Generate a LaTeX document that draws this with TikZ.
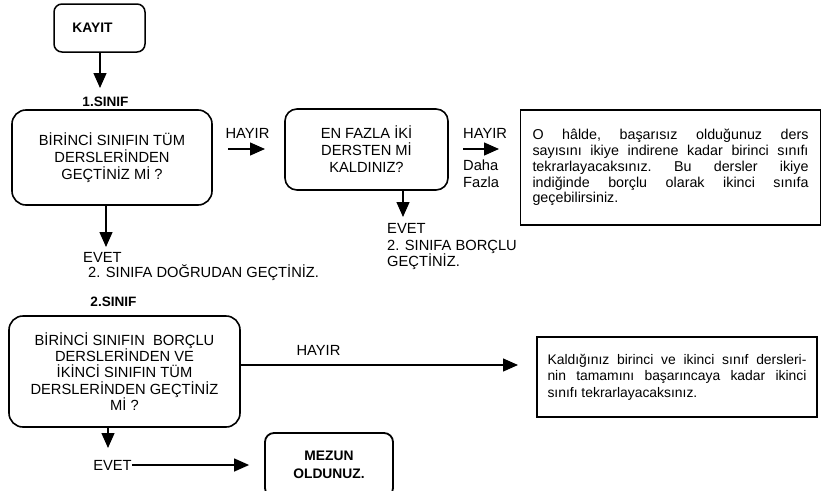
\documentclass[tikz,border=0pt]{standalone}
\usepackage{fontspec}
\setmainfont{Liberation Sans}
\usetikzlibrary{arrows.meta}
\tikzstyle{question}=[draw, line width=1.6pt, rounded corners=14pt, align=center, inner sep=0pt, font=\fontsize{14.7}{17}\selectfont]
\tikzstyle{verdict}=[draw, line width=1.6pt, inner sep=0pt, align=justify, font=\fontsize{14.3}{15.8}\selectfont]
\tikzstyle{terminal}=[draw, line width=1.8pt, rounded corners=9pt, align=center, inner sep=0pt, font=\fontsize{13.8}{18}\selectfont\bfseries]
\tikzstyle{heading}=[inner sep=0pt, font=\fontsize{13.6}{16}\selectfont\bfseries]
\tikzstyle{answer}=[inner sep=0pt, align=left, font=\fontsize{14.7}{16.5}\selectfont]
\tikzstyle{flow}=[-{Triangle[length=15pt,width=13pt]}, line width=1.3pt]
\newcommand{\fullline}[2]{\makebox[#1][s]{\frenchspacing\spaceskip=0pt\xspaceskip=0pt\relax #2}}

\begin{document}
\begin{tikzpicture}[x=1pt,y=-1pt]
  \useasboundingbox (0,0) rectangle (822,490);

  %% First year
  \draw (99.5,28) node[terminal, line width=1.5pt, rounded corners=8pt, minimum width=91pt, minimum height=48pt] (kayit) {KAYIT\hspace{14pt}};
  \draw (105.5,102) node[heading] (sinif1) {1.SINIF};
  \draw (112,157.5) node[question, minimum width=200pt, minimum height=95pt] (tum1) {BİRİNCİ SINIFIN TÜM\\DERSLERİNDEN\\GEÇTİNİZ Mİ ?};
  \draw (366.5,149.5) node[question, rounded corners=12pt, minimum width=163pt, minimum height=81pt] (iki) {EN FAZLA İKİ\\DERSTEN Mİ\\KALDINIZ?};
  \draw (670.5,167.5) node[verdict, text width=276pt, minimum width=300pt, minimum height=115pt] (tekrar1) {%
    \fullline{276pt}{O hâlde, başarısız olduğunuz ders}\\
    \fullline{276pt}{sayısını ikiye indirene kadar birinci sınıfı}\\
    \fullline{276pt}{tekrarlayacaksınız. Bu dersler ikiye}\\
    \fullline{276pt}{indiğinde borçlu olarak ikinci sınıfa}\\
    geçebilirsiniz.};

  \coordinate (k1) at (100,88);
  \draw[flow] (kayit.south -| k1) -- (k1);

  \coordinate (h1a) at (228,149);
  \coordinate (h1b) at (265,149);
  \draw[flow] (h1a) -- (h1b);
  \draw (247.5,133) node[answer] (hayir1) {HAYIR};

  \coordinate (e1) at (106,247);
  \draw[flow] (tum1.south -| e1) -- (e1);
  \draw (83,257) node[answer, anchor=west] (evet1) {EVET};
  \draw (88,273) node[answer, anchor=west] (gecti1) {2. SINIFA DOĞRUDAN GEÇTİNİZ.};

  \coordinate (h2a) at (463,149);
  \coordinate (h2b) at (499,149);
  \draw[flow] (h2a) -- (h2b);
  \draw (463,133) node[answer, anchor=west] (hayir2) {HAYIR};
  \draw (463,173.5) node[answer, anchor=west, font=\fontsize{14.7}{17}\selectfont] (fazla) {Daha\\Fazla};

  \coordinate (e2) at (403,217);
  \draw[flow] (iki.south -| e2) -- (e2);
  \draw (387,246.5) node[answer, anchor=west] (evet2) {EVET\\2. SINIFA BORÇLU\\GEÇTİNİZ.};

  %% Second year
  \draw (113.5,302) node[heading] (sinif2) {2.SINIF};
  \draw (124.5,371.5) node[question, minimum width=231pt, minimum height=111pt, font=\fontsize{14.7}{16.3}\selectfont] (tum2) {BİRİNCİ SINIFIN~ BORÇLU\\DERSLERİNDEN VE\\İKİNCİ SINIFIN TÜM\\DERSLERİNDEN GEÇTİNİZ\\Mİ ?};
  \draw (677,377) node[verdict, text width=259pt, minimum width=280pt, minimum height=80pt, font=\fontsize{13.9}{16.5}\selectfont] (tekrar2) {%
    \fullline{259pt}{Kaldığınız birinci ve ikinci sınıf dersleri-}\\
    \fullline{259pt}{nin tamamını başarıncaya kadar ikinci}\\
    sınıfı tekrarlayacaksınız.};

  \coordinate (h3) at (518,365);
  \draw[flow] (tum2.east |- h3) -- (h3);
  \draw (318.5,350) node[answer] (hayir3) {HAYIR};

  \coordinate (e3) at (108,448);
  \draw[flow] (tum2.south -| e3) -- (e3);
  \draw (112.5,465) node[answer] (evet3) {EVET};
  \draw (329,465) node[terminal, minimum width=128pt, minimum height=64pt] (mezun) {MEZUN\\OLDUNUZ.};
  \draw[flow] (evet3.east) -- ([xshift=-15pt]mezun.west);
\end{tikzpicture}
\end{document}
